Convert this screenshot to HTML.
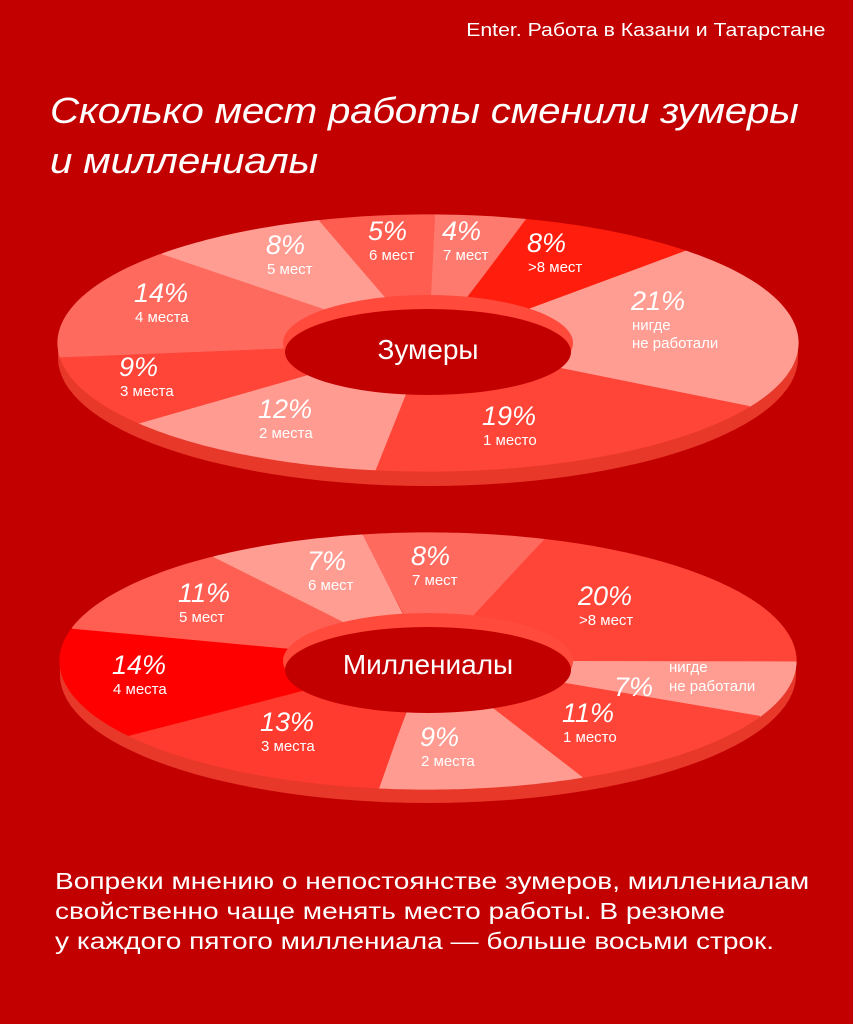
<!DOCTYPE html>
<html><head><meta charset="utf-8"><style>
html,body{margin:0;padding:0}
body{width:853px;height:1024px;background:#C20000;position:relative;overflow:hidden;font-family:"Liberation Sans","DejaVu Sans",sans-serif;color:#fff}
.hdr{position:absolute;right:28px;top:20px;font-size:18px;transform:scaleX(1.18);transform-origin:right top;white-space:nowrap}
.ttl{position:absolute;left:50px;top:86px;font-size:36px;font-style:italic;line-height:50px;letter-spacing:-0.2px;transform:scaleX(1.12);transform-origin:left top;white-space:nowrap}
.txt{position:absolute;left:55px;top:866px;font-size:23px;line-height:30px;transform:scaleX(1.22);transform-origin:left top;white-space:nowrap}
svg{position:absolute;left:0;top:0}
svg text{fill:#fff;font-family:"Liberation Sans",sans-serif}
.p{font-size:27px;font-style:italic}
.l{font-size:15px}
</style></head><body>
<div class="hdr">Enter. Работа в Казани и Татарстане</div>
<div class="ttl">Сколько мест работы сменили зумеры<br>и миллениалы</div>
<svg id="s" width="853" height="1024" viewBox="0 0 853 1024"></svg>
<div class="txt">Вопреки мнению о непостоянстве зумеров, миллениалам<br>свойственно чаще менять место работы. В резюме<br>у каждого пятого миллениала — больше восьми строк.</div>
<script>
var s=document.getElementById('s');var h='';
function ring(cx,cy,rx,ry,irx,iry,start,sl,dep){
 h+='<ellipse cx="'+cx+'" cy="'+(cy+dep)+'" rx="'+rx+'" ry="'+ry+'" fill="#E8382A"/>';
 h+='<rect x="'+(cx-rx)+'" y="'+cy+'" width="'+(2*rx)+'" height="'+dep+'" fill="#E8382A"/>';
 var t=start;
 sl.forEach(function(o){
  var a0=t,a1=t+o[0]*3.6;t=a1;var pts=[];
  for(var a=a0;a<=a1+0.01;a+=1){var r=a*Math.PI/180;pts.push((cx+rx*Math.sin(r)).toFixed(1)+','+(cy-ry*Math.cos(r)).toFixed(1));}
  var r=a1*Math.PI/180;pts.push((cx+rx*Math.sin(r)).toFixed(1)+','+(cy-ry*Math.cos(r)).toFixed(1));
  for(var a=a1;a>=a0-0.01;a-=1){var r=a*Math.PI/180;pts.push((cx+irx*Math.sin(r)).toFixed(1)+','+(cy-iry*Math.cos(r)).toFixed(1));}
  h+='<polygon points="'+pts.join(' ')+'" fill="'+o[1]+'" stroke="'+o[1]+'" stroke-width="1.2" stroke-linejoin="round"/>';
 });
 h+='<ellipse cx="'+cx+'" cy="'+cy+'" rx="'+irx+'" ry="'+iry+'" fill="#FF4A3C"/>';
 h+='<ellipse cx="'+cx+'" cy="'+(cy+9)+'" rx="'+(irx-2)+'" ry="'+(iry-5)+'" fill="#C20000"/>';
}
ring(428,343,370,128,145,48,1,[[4,'#FF7A6E'],[8,'#FF1E0E'],[21,'#FF9D93'],[19,'#FF4438'],[12,'#FF9B90'],[9,'#FF4438'],[14,'#FF6A5F'],[8,'#FF9D93'],[5,'#FF5D50']],15);
ring(428,661,368,128,145,48,349.7,[[8,'#FF6A5F'],[20,'#FF4438'],[7,'#FF9D93'],[11,'#FF4438'],[9,'#FF9B90'],[13,'#FF3A2E'],[14,'#FF0000'],[11,'#FF5E52'],[7,'#FF9D93']],14);
function L(x,y,p,l,l2){h+='<text class="p" x="'+x+'" y="'+y+'">'+p+'</text>';h+='<text class="l" x="'+(x+1)+'" y="'+(y+20)+'">'+l+'</text>';if(l2)h+='<text class="l" x="'+(x+1)+'" y="'+(y+38)+'">'+l2+'</text>';}
L(368,240,'5%','6 мест');L(442,240,'4%','7 мест');L(527,252,'8%','&gt;8 мест');L(266,254,'8%','5 мест');
L(134,302,'14%','4 места');L(631,310,'21%','нигде','не работали');L(119,376,'9%','3 места');
L(258,418,'12%','2 места');L(482,425,'19%','1 место');
L(307,570,'7%','6 мест');L(411,565,'8%','7 мест');L(578,605,'20%','&gt;8 мест');L(178,602,'11%','5 мест');
L(112,674,'14%','4 места');L(260,731,'13%','3 места');L(420,746,'9%','2 места');L(562,722,'11%','1 место');
h+='<text class="p" x="614" y="696">7%</text><text class="l" x="669" y="672">нигде</text><text class="l" x="669" y="691">не работали</text>';
h+='<text x="428" y="359" text-anchor="middle" font-size="28">Зумеры</text>';
h+='<text x="428" y="674" text-anchor="middle" font-size="28">Миллениалы</text>';
s.innerHTML=h;
</script>
</body></html>
